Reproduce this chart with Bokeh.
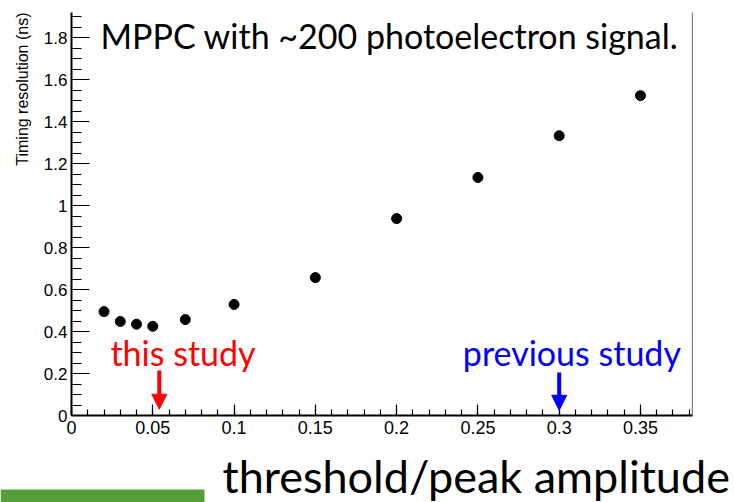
from bokeh.plotting import figure
from bokeh.layouts import column
from bokeh.models import (Range1d, SingleIntervalTicker, CustomJSTickFormatter, Label,
                          Arrow, NormalHead, Span, Title, ColumnDataSource)
from bokeh.core.properties import value
from bokeh.embed import file_html
from bokeh.resources import INLINE

# ---- data ----
threshold = [0.02, 0.03, 0.04, 0.05, 0.07, 0.10, 0.15, 0.20, 0.25, 0.30, 0.35]
resolution = [0.495, 0.448, 0.435, 0.425, 0.457, 0.529, 0.657, 0.938, 1.134, 1.333, 1.524]

study_names = ["this study", "previous study"]
study_colors = ["#ff0000", "#0000ff"]
arrow_x = [0.054, 0.300]
arrow_top = [0.214, 0.205]
arrow_tip = [0.030, 0.025]
label_x = [0.0686, 0.3078]
label_y = [0.30, 0.30]

title_text = "MPPC with ~200 photoelectron signal."
x_title = "threshold/peak amplitude"
y_title = "Timing resolution (ns)"

X_MAX = 0.382
Y_MAX = 1.92

p = figure(width=734, height=445, output_backend="svg", toolbar_location=None,
           x_range=Range1d(0, X_MAX), y_range=Range1d(0, Y_MAX),
           min_border_left=71, min_border_right=42, min_border_top=12, min_border_bottom=30)
p.frame_width = 621
p.frame_height = 403
p.frame_align = False
p.outline_line_color = None
p.grid.visible = False
p.background_fill_color = "white"
p.border_fill_color = "white"

fmt = CustomJSTickFormatter(code="return Number(tick.toFixed(3)).toString();")

for ax, interval, nminor, maj_len, min_len, fs in (
        (p.xaxis[0], 0.05, 5, 11, 6, "18px"),
        (p.yaxis[0], 0.2, 4, 18, 10, "17px")):
    ax.ticker = SingleIntervalTicker(interval=interval, num_minor_ticks=nminor)
    ax.formatter = fmt
    ax.major_tick_in = maj_len
    ax.major_tick_out = 0
    ax.minor_tick_in = min_len
    ax.minor_tick_out = 0
    ax.axis_line_width = 2
    ax.axis_line_color = "black"
    ax.major_tick_line_color = "black"
    ax.minor_tick_line_color = "black"
    ax.major_tick_line_width = 1.2
    ax.minor_tick_line_width = 1.2
    ax.major_label_text_font = "Liberation Sans"
    ax.major_label_text_font_size = fs
    ax.major_label_text_color = "black"

p.xaxis.major_label_standoff = 5
p.yaxis.major_label_standoff = 4

# y-axis title, ROOT style: aligned to the top end of the axis
p.add_layout(Title(text=y_title, align="right", text_font="Liberation Sans",
                   text_font_size="16px", text_font_style="normal", text_color="black",
                   standoff=20), "left")

# right frame edge
p.add_layout(Span(location=X_MAX, dimension="height", line_color="black", line_width=1.2))

src = ColumnDataSource(dict(x=threshold, y=resolution))
p.scatter("x", "y", source=src, size=10, color="black")

for i in range(len(study_names)):
    c = study_colors[i]
    p.add_layout(Arrow(end=NormalHead(size=15, fill_color=c, line_color=c),
                       x_start=arrow_x[i], y_start=arrow_top[i],
                       x_end=arrow_x[i], y_end=arrow_tip[i],
                       line_color=c, line_width=4))
    p.add_layout(Label(x=label_x[i], y=label_y[i], text=study_names[i], text_color=c,
                       text_font="Lato", text_font_size="34px",
                       text_align="center", text_baseline="alphabetic"))

# title box
p.add_layout(Label(x=29, y=380, x_units="screen", y_units="screen", text=title_text,
                   text_font="Lato", text_font_size="34px", text_color="black",
                   text_align="left", text_baseline="alphabetic",
                   background_fill_color="white", background_fill_alpha=1.0))

# ---- bottom strip: x title and green bar ----
p2 = figure(width=734, height=57, output_backend="svg", toolbar_location=None,
            x_range=Range1d(0, 734), y_range=Range1d(0, 57),
            x_axis_location=None, y_axis_location=None,
            min_border_left=0, min_border_right=0, min_border_top=0, min_border_bottom=0)
p2.frame_align = False
p2.outline_line_color = None
p2.grid.visible = False
p2.quad(left=[0], right=[204], bottom=[0], top=[13], fill_color="#559e3a", line_color=None)
p2.text(x=[222], y=[27], text=[x_title], text_font=value("Lato"), text_font_size="45px",
        text_color="black", text_align="left", text_baseline="alphabetic")

open("out.html", "w").write(file_html(column(p, p2, spacing=0), INLINE))
